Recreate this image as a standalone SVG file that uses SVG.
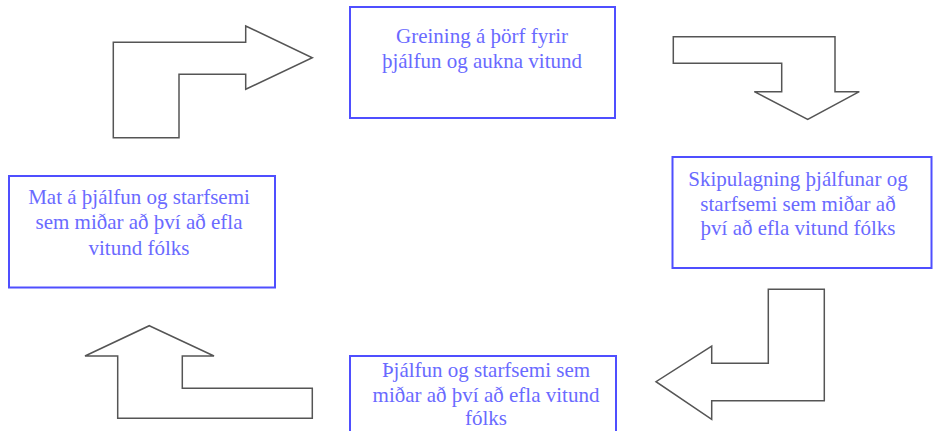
<svg xmlns="http://www.w3.org/2000/svg" width="933" height="431" viewBox="0 0 933 431">
<style>
.box{fill:#fff;stroke:#4f4fff;stroke-width:2}
.arr{fill:#fff;stroke:#555;stroke-width:1.5;stroke-linejoin:miter}
.t{font-family:"Liberation Serif","Times New Roman",serif;font-size:21px;fill:#6a6aff;text-anchor:middle}
</style>
<rect width="933" height="431" fill="#fff"/>
<g id="connectors">
<path id="arrow-top-left" class="arr" d="M113.3,137.7 L113.3,42.3 L245.7,42.3 L245.7,26 L312.3,57.7 L245.7,89.3 L245.7,74.3 L179,74.3 L179,137.7 Z"/>
<path id="arrow-top-right" class="arr" d="M673.3,36.7 L835,36.7 L835,91.7 L859.3,91.7 L807.7,119.3 L754.3,91.7 L781.7,91.7 L781.7,63.3 L673.3,63.3 Z"/>
<path id="arrow-bottom-right" class="arr" d="M768.3,289.3 L824.3,289.3 L824.3,400.7 L711.7,400.7 L711.7,419.3 L656,381.7 L711.7,346 L711.7,363.3 L768.3,363.3 Z"/>
<path id="arrow-bottom-left" class="arr" d="M149.3,325.7 L214,356 L182.3,356 L182.3,388.3 L312.3,388.3 L312.3,418.3 L117.7,418.3 L117.7,356 L85,356 Z"/>
</g>
<g id="node-greining">
<rect class="box" x="350" y="7" width="265" height="111"/>
<text class="t" x="482" y="43">Greining á þörf fyrir</text>
<text class="t" x="482" y="68">þjálfun og aukna vitund</text>
</g>
<g id="node-skipulagning">
<rect class="box" x="672.5" y="157" width="259" height="111"/>
<text class="t" x="798" y="186">Skipulagning þjálfunar og</text>
<text class="t" x="798" y="211">starfsemi sem miðar að</text>
<text class="t" x="798" y="235">því að efla vitund fólks</text>
</g>
<g id="node-thjalfun">
<rect class="box" x="350" y="356" width="266" height="80"/>
<text class="t" x="486" y="377">Þjálfun og starfsemi sem</text>
<text class="t" x="486" y="402">miðar að því að efla vitund</text>
<text class="t" x="486" y="425">fólks</text>
</g>
<g id="node-mat">
<rect class="box" x="9" y="176" width="266" height="111.5"/>
<text class="t" x="139" y="204">Mat á þjálfun og starfsemi</text>
<text class="t" x="139" y="229">sem miðar að því að efla</text>
<text class="t" x="139" y="255">vitund fólks</text>
</g>
</svg>
